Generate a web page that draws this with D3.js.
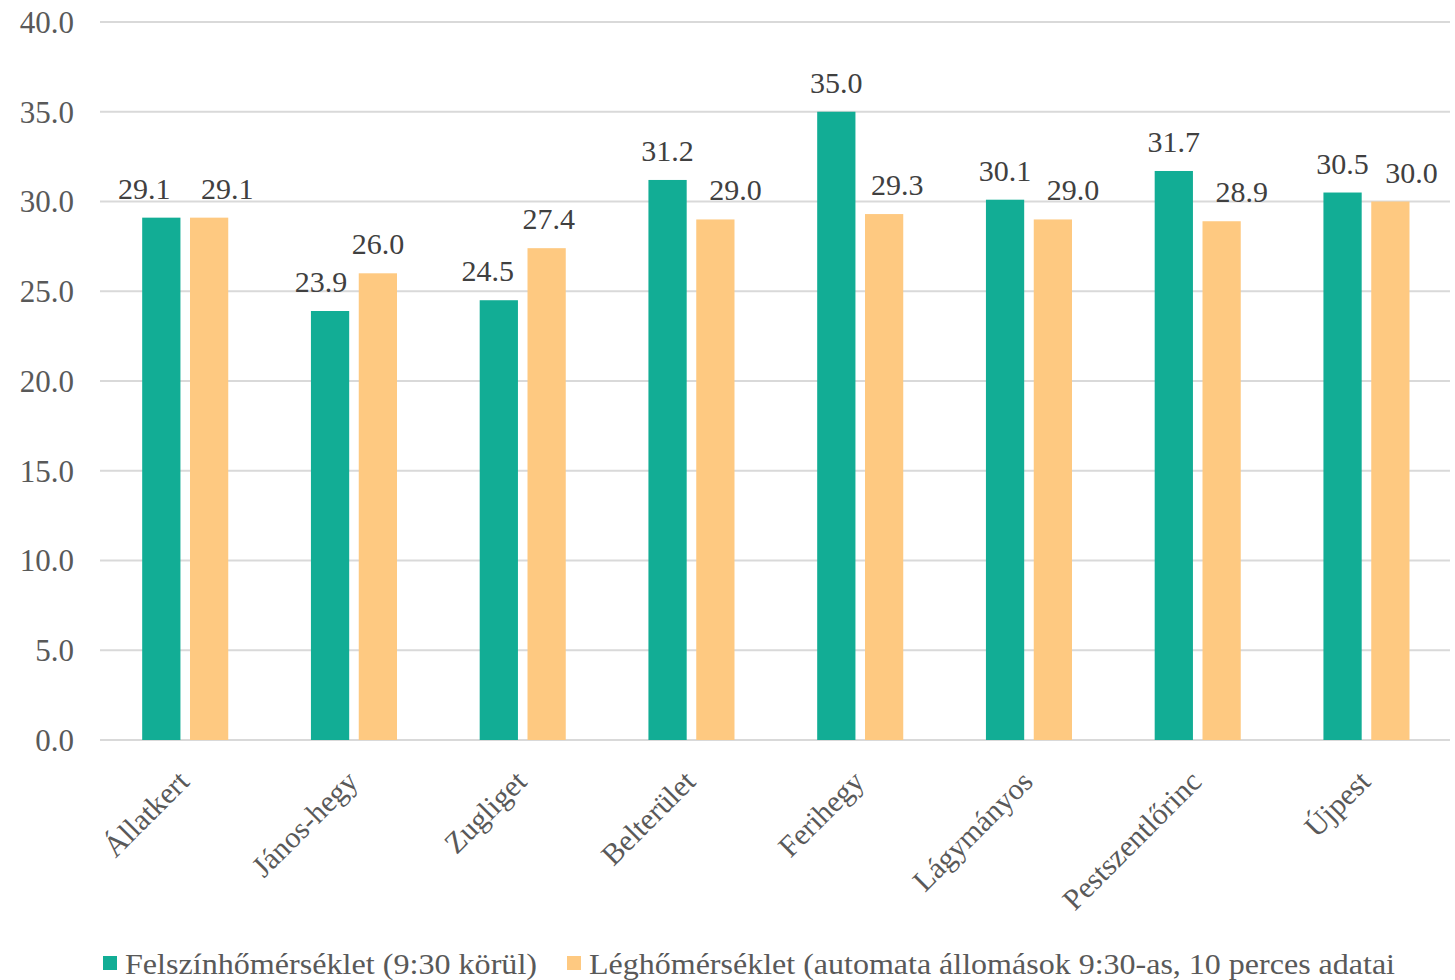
<!DOCTYPE html>
<html><head><meta charset="utf-8">
<script src="https://cdn.jsdelivr.net/npm/d3@7"></script>
<style>body{margin:0;background:#fff}svg{display:block}
svg text{font-family:"Liberation Serif","Times New Roman",Times,serif;}</style>
</head><body>
<svg id="c" width="1455" height="980"></svg>
<script>
const categories = ["Állatkert","János-hegy","Zugliget","Belterület","Ferihegy","Lágymányos","Pestszentlőrinc","Újpest"];
const seriesNames = ["Felszínhőmérséklet (9:30 körül)","Léghőmérséklet (automata állomások 9:30-as, 10 perces adatai"];
const surfaceTemp = [29.1,23.9,24.5,31.2,35.0,30.1,31.7,30.5];
const airTemp = [29.1,26.0,27.4,29.0,29.3,29.0,28.9,30.0];
const yTicks = [0,5,10,15,20,25,30,35,40];
const colors = ["#12ad95","#fec981"];
// label horizontal nudges (layout, px)
const labelShiftSurface = [-17,-9,-11,0,0,0,0,0];
const labelShiftAir = [18,0,2,20,13,20,20,21];

const svg = d3.select("#c");
const x0 = d3.scaleBand().domain(categories).range([100,1450]).padding(0);
const bw = x0.bandwidth();
const x1 = d3.scaleBand().domain([0,1]).range([bw*0.25, bw*0.76]).paddingInner(0.2).paddingOuter(0);
const y = d3.scaleLinear().domain([0,40]).range([740,22]);

svg.append("g").selectAll("line").data(yTicks).join("line")
  .attr("x1",100).attr("x2",1450)
  .attr("y1",d=>y(d)).attr("y2",d=>y(d))
  .attr("stroke","#d9d9d9").attr("stroke-width",2);

svg.append("g").selectAll("text").data(yTicks).join("text")
  .attr("x",74).attr("y",d=>y(d)).attr("dy","0.35em")
  .attr("text-anchor","end").attr("font-size",31)
  .attr("fill","#595959").text(d=>d.toFixed(1));

const series = [surfaceTemp, airTemp];
const shifts = [labelShiftSurface, labelShiftAir];
series.forEach((vals,si)=>{
  const g = svg.append("g");
  g.selectAll("rect").data(vals).join("rect")
    .attr("x",(d,i)=>x0(categories[i])+x1(si))
    .attr("width",x1.bandwidth())
    .attr("y",d=>y(d)).attr("height",d=>y(0)-y(d))
    .attr("fill",colors[si]);
  g.selectAll("text").data(vals).join("text")
    .attr("x",(d,i)=>x0(categories[i])+x1(si)+x1.bandwidth()/2+shifts[si][i])
    .attr("y",d=>y(d)-19)
    .attr("text-anchor","middle").attr("font-size",30)
    .attr("fill","#404040").text(d=>d.toFixed(1));
});

svg.append("g").selectAll("text").data(categories).join("text")
  .attr("transform",d=>`translate(${x0(d)+bw/2-1},${776}) rotate(-45)`)
  .attr("dy","0.35em")
  .attr("text-anchor","end").attr("font-size",30)
  .attr("fill","#595959").text(d=>d);

const leg = svg.append("g");
const legX = [103,567];
const legW = [412,806];
seriesNames.forEach((n,i)=>{
  leg.append("rect").attr("x",legX[i]).attr("y",956).attr("width",14).attr("height",14).attr("fill",colors[i]);
  leg.append("text").attr("x",legX[i]+22).attr("y",974)
    .attr("font-size",29).attr("fill","#595959")
    .attr("textLength",legW[i]).attr("lengthAdjust","spacingAndGlyphs").text(n);
});
</script>
</body></html>
